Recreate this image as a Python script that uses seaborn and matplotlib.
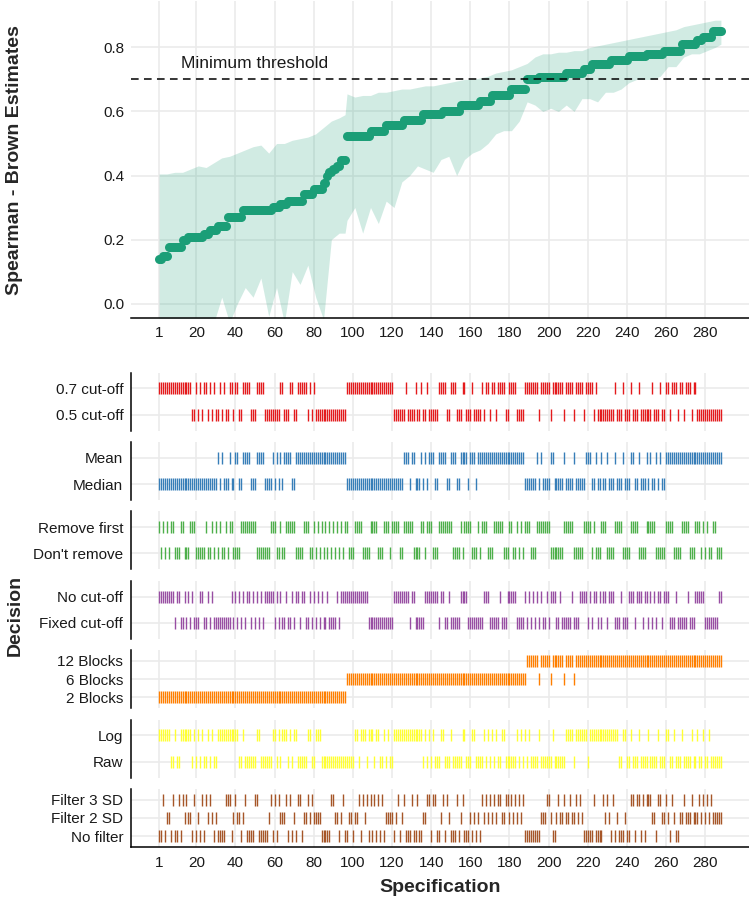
import numpy as np
import pandas as pd
import matplotlib
matplotlib.use("Agg")
import matplotlib.pyplot as plt
import seaborn as sns

# sorted Spearman-Brown estimates as plateaus (value, number of specs)
est_levels = [0.140, 0.150, 0.176, 0.200, 0.209, 0.218, 0.229, 0.241, 0.270, 0.293, 0.301,
              0.311, 0.319, 0.342, 0.357, 0.378, 0.400, 0.410, 0.420, 0.430, 0.448, 0.522,
              0.540, 0.557, 0.572, 0.593, 0.603, 0.619, 0.634, 0.650, 0.670, 0.700, 0.709,
              0.720, 0.733, 0.749, 0.761, 0.772, 0.780, 0.790, 0.811, 0.824, 0.832, 0.851]
est_counts = [2, 3, 7, 3, 8, 3, 4, 5, 8, 15, 4, 4, 8, 5, 5, 2, 1, 2, 2, 2, 3, 12,
              8, 9, 10, 10, 9, 10, 6, 10, 8, 6, 14, 9, 4, 10, 9, 9, 9, 9, 8, 3, 5, 5]

# confidence band, read at these specifications
ci_spec = [1, 5, 9, 13, 17, 21, 25, 29, 33, 37, 41, 45, 49, 53, 57, 61, 65, 69, 73, 77, 81,
           85, 89, 93, 96, 97, 101, 105, 109, 113, 117, 121, 125, 129, 133, 137, 141, 145,
           149, 153, 157, 161, 165, 169, 173, 177, 181, 185, 189, 193, 197, 201, 205, 209,
           213, 217, 221, 225, 229, 233, 237, 241, 245, 249, 253, 257, 261, 265, 269, 273,
           277, 281, 285, 288]
ci_upper = [0.405, 0.405, 0.41, 0.41, 0.42, 0.43, 0.425, 0.44, 0.455, 0.46, 0.47, 0.48,
            0.49, 0.495, 0.47, 0.50, 0.50, 0.51, 0.515, 0.52, 0.53, 0.55, 0.57, 0.58, 0.59,
            0.655, 0.645, 0.65, 0.65, 0.66, 0.66, 0.665, 0.67, 0.67, 0.675, 0.68, 0.68, 0.685,
            0.69, 0.695, 0.70, 0.70, 0.705, 0.71, 0.72, 0.725, 0.73, 0.74, 0.75, 0.77, 0.78,
            0.78, 0.785, 0.785, 0.79, 0.79, 0.80, 0.805, 0.81, 0.815, 0.82, 0.825, 0.83,
            0.835, 0.84, 0.845, 0.85, 0.855, 0.865, 0.87, 0.875, 0.88, 0.885, 0.885]
ci_lower = [-0.10, -0.10, -0.10, -0.10, -0.10, -0.10, -0.10, -0.06, 0.02, -0.06, 0.00, 0.05,
            0.02, 0.08, -0.04, 0.05, -0.06, 0.10, 0.06, 0.12, 0.02, -0.05, 0.20, 0.22, 0.22,
            0.26, 0.30, 0.22, 0.30, 0.25, 0.32, 0.30, 0.38, 0.40, 0.43, 0.42, 0.41, 0.45,
            0.46, 0.40, 0.45, 0.47, 0.48, 0.50, 0.53, 0.54, 0.54, 0.57, 0.63, 0.62, 0.60,
            0.61, 0.60, 0.62, 0.60, 0.64, 0.64, 0.63, 0.66, 0.66, 0.67, 0.69, 0.70, 0.70,
            0.70, 0.71, 0.74, 0.74, 0.77, 0.78, 0.78, 0.79, 0.80, 0.81]

# decision membership: ints = single spec, tuples = inclusive ranges
cut07 = [(1, 17), 20, 22, 24, 25, 27, 29, 32, 34, 37, 38, 40, 41, (44, 47), (51, 54), 63, 64,
         68, 69, (72, 76), 78, 80, (97, 120), 127, 132, 135, 138, (144, 147), (150, 152), 156,
         157, 161, 166, 168, 169, 171, 172, (174, 177), (180, 183), (188, 194), (196, 200),
         (202, 207), (209, 212), (214, 217), (219, 222), 224, 234, 238, 242, 246, 253, 257,
         260, 261, (263, 265), 267, 268, (270, 272), 274, 275]
mean_set = [31, 33, 37, 40, 41, (44, 47), (51, 54), 59, 61, 63, (65, 68), (71, 96), (126, 128),
            130, 131, 135, 137, (139, 141), (144, 147), (150, 152), (155, 158), (160, 162),
            (164, 187), 194, 196, 201, 202, 208, 213, (219, 221), 224, 227, 230, 234, 238, 242,
            243, 246, 250, 252, 255, 257, (260, 288)]
remove_first = [1, 3, 5, 7, 8, 12, 13, (17, 19), 25, 28, 30, 32, 35, 37, 38, (43, 50), (58, 60),
                63, (66, 70), 75, 76, 77, 80, 82, 84, 86, 88, 90, 92, 94, 96, 97, (101, 104),
                (109, 112), (116, 118), (120, 123), (126, 130), 135, 136, (138, 140), (144, 150),
                155, (157, 160), 164, (166, 168), (172, 176), 180, 181, 184, 186, (188, 190),
                (194, 200), (208, 212), (218, 221), 223, (227, 229), (234, 237), (242, 245),
                (250, 254), (260, 263), (268, 271), (275, 277), 279, 281, 284, 285]
no_cutoff = [(1, 8), 10, 11, 14, 16, 18, 22, 23, 26, 28, 38, 40, 42, 44, 46, 47, 49, 51, 53,
             (55, 59), 61, 63, 66, 69, 71, 72, 74, 75, 78, 80, 82, 84, 87, 92, (94, 107),
             (121, 128), 130, 131, (137, 143), 145, 146, 149, (155, 158), (167, 169), 175,
             (179, 183), 188, 190, 192, 194, 196, 199, (201, 203), 206, 212, (216, 219), 221,
             223, 224, 226, 228, 229, (231, 233), 237, (241, 243), (245, 247), 249, 250, 252,
             254, 256, 257, (259, 261), 265, 271, (275, 279), 287, 288]
blocks_2 = [(1, 96)]
blocks_6 = [(97, 188), 195, 201, 208, 213]
log_set = [(1, 6), 9, (12, 17), 19, 21, 23, 26, 28, (31, 41), 44, 51, 52, 59, 60, 62, (64, 66),
           68, 70, 71, 77, 78, (81, 83), 101, 102, (104, 106), (108, 110), 112, 113, 116, 118,
           (121, 135), 137, 139, 141, 145, 146, 150, 156, 157, 161, 162, 167, 169, 171, 173,
           176, 177, 184, 186, 188, 190, 195, 202, (209, 212), (214, 219), (221, 235), 238,
           239, 242, 246, 251, 256, 260, 261, 264, 268, 273, 276, 279, 282]
sd3_set = [3, 8, 11, 13, 15, 19, 23, 25, 27, 35, 36, 37, 40, 45, 50, 51, 58, 60, 62, 66, 68,
           72, 73, 77, 79, 89, 90, 95, 103, 105, 107, 109, 111, 113, 115, 123, 126, 130, 133,
           138, 139, 141, 142, 146, 148, 153, 156, 166, 168, 170, 172, 174, 175, 178, 179,
           181, 183, 185, 187, 199, 200, 205, 208, 211, 214, 216, 223, 228, 230, 233, 242,
           243, 245, 246, 248, 250, 251, 252, 256, 257, 260, 263, 269, 273, 277, 279, 281, 283]
sd2_set = [5, 6, 14, 16, 17, 21, 26, 28, 30, 39, 41, 42, 44, 57, 63, 64, 65, 70, 75, 76, 78,
           80, 81, 82, 83, 91, 92, 94, 98, 99, 101, 102, 106, 117, 118, 119, 120, 122, 125,
           136, 137, 145, 149, 155, 160, 162, 164, 167, 169, 171, 173, 176, 177, 180, 182,
           184, 186, 196, 197, 198, 201, 204, 206, 207, 209, 210, 212, 213, 215, 217, 229,
           231, 235, 239, 253, 254, 258, 259, 261, 264, 267, 268, 270, 271, 272, 274, 275,
           276, 278, 280, 282, (284, 288)]

# labels top to bottom; each label's member list, None = every remaining spec
decision_groups = [
    (["0.7 cut-off", "0.5 cut-off"], [cut07, None], "#E41A1C"),
    (["Mean", "Median"], [mean_set, None], "#377EB8"),
    (["Remove first", "Don't remove"], [remove_first, None], "#4DAF4A"),
    (["No cut-off", "Fixed cut-off"], [no_cutoff, None], "#984EA3"),
    (["12 Blocks", "6 Blocks", "2 Blocks"], [None, blocks_6, blocks_2], "#FF7F00"),
    (["Log", "Raw"], [log_set, None], "#FFFF33"),
    (["Filter 3 SD", "Filter 2 SD", "No filter"], [sd3_set, sd2_set, None], "#A65628"),
]


def expand(items):
    out = []
    for it in items:
        if isinstance(it, tuple):
            out.extend(range(it[0], it[1] + 1))
        else:
            out.append(it)
    return set(out)


specs = np.arange(1, 289)
estimates = np.repeat(est_levels, est_counts)

sns.set_theme(style="white")
plt.rcParams['font.family'] = ['Liberation Sans', 'DejaVu Sans']

W, H = 749, 902
fig = plt.figure(figsize=(W / 100, H / 100), dpi=100)
grid_col = "#EBEBEB"
xticks = [1, 20, 40, 60, 80, 100, 120, 140, 160, 180, 200, 220, 240, 260, 280]
xlim = (-13.35, 302.35)
left, width = 131 / W, 618 / W

# ---- top panel: estimates ----
ax = fig.add_axes([left, 1 - 318 / H, width, 317 / H])
ax.fill_between(ci_spec, ci_lower, ci_upper, color="#1B9E77", alpha=0.2, linewidth=0)
sns.scatterplot(x=specs, y=estimates, color="#1B9E77", s=42, linewidth=0, ax=ax, zorder=3)
ax.axhline(0.7, color="black", linestyle=(0, (5, 3.5)), linewidth=1.1, zorder=4)
ax.text(50, 0.75, "Minimum threshold", ha="center", va="center", fontsize=12.5, color="#1a1a1a")
ax.set_xlim(xlim)
ax.set_ylim(-0.045, 0.945)
ax.set_xticks(xticks)
ax.set_yticks([0, 0.2, 0.4, 0.6, 0.8])
ax.set_yticklabels(["0.0", "0.2", "0.4", "0.6", "0.8"])
ax.grid(True, color=grid_col, linewidth=1.2)
ax.set_axisbelow(True)
for sp in ["top", "right", "left"]:
    ax.spines[sp].set_visible(False)
ax.spines["bottom"].set_color("black")
ax.spines["bottom"].set_linewidth(1.1)
ax.tick_params(axis="x", length=3.5, width=1, color="black", pad=2, labelsize=11, labelcolor="#1a1a1a")
ax.tick_params(axis="y", length=0, pad=5, labelsize=11, labelcolor="#1a1a1a")
ax.set_xlabel("")
ax.set_ylabel("")
fig.text(15 / W, 1 - 160 / H, "Spearman - Brown Estimates", rotation=90, ha="center",
         va="center", fontsize=14, fontweight="bold")

# ---- bottom panels: decisions ----
panel_h = 58
step = 69.4
top0 = 372.5
for i, (labels, sets, col) in enumerate(decision_groups):
    n = len(labels)
    top = top0 + i * step
    axd = fig.add_axes([left, 1 - (top + panel_h) / H, width, panel_h / H])
    member = [expand(s) if s is not None else None for s in sets]
    rest = n - [k for k, m in enumerate(member) if m is None][0]
    ypos = []
    for s in specs:
        pos = rest
        for k, m in enumerate(member):
            if m is not None and s in m:
                pos = n - k
                break
        ypos.append(pos)
    df = pd.DataFrame({"spec": specs, "y": ypos})
    axd.scatter(df["spec"], df["y"], marker="|", s=80, linewidths=1.0, c=col, zorder=3)
    axd.set_xlim(xlim)
    axd.set_ylim(0.4, n + 0.6)
    axd.set_yticks(range(n, 0, -1))
    axd.set_yticklabels(labels)
    axd.set_xticks(xticks)
    axd.grid(True, color=grid_col, linewidth=1.2)
    axd.set_axisbelow(True)
    for sp in ["top", "right"]:
        axd.spines[sp].set_visible(False)
    axd.spines["left"].set_color("black")
    axd.spines["left"].set_linewidth(1.1)
    axd.tick_params(axis="y", length=3.5, width=1, color="black", pad=2, labelsize=11,
                    labelcolor="#1a1a1a")
    if i == len(decision_groups) - 1:
        axd.spines["bottom"].set_color("black")
        axd.spines["bottom"].set_linewidth(1.1)
        axd.tick_params(axis="x", length=3.5, width=1, color="black", pad=3, labelsize=11,
                        labelcolor="#1a1a1a")
    else:
        axd.spines["bottom"].set_visible(False)
        axd.tick_params(axis="x", length=0, labelbottom=False)

fig.text(15 / W, 1 - 615 / H, "Decision", rotation=90, ha="center", va="center",
         fontsize=14, fontweight="bold")
fig.text(440 / W, 1 - 887 / H, "Specification", ha="center", va="center",
         fontsize=14, fontweight="bold")

fig.savefig("out.png", dpi=100)
